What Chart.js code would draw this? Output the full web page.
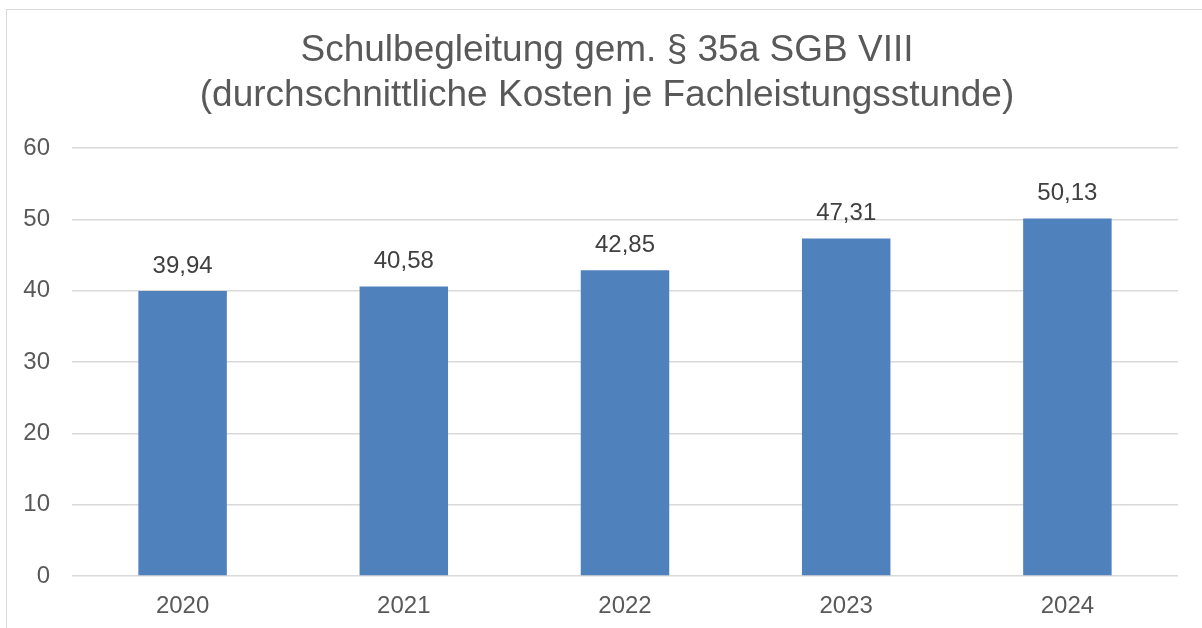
<!DOCTYPE html>
<html>
<head>
<meta charset="utf-8">
<script src="https://cdn.jsdelivr.net/npm/chart.js@4.4.1/dist/chart.umd.min.js"></script>
<style>
    html, body { margin: 0; padding: 0; background: #fff; overflow: hidden; }
    #frame { position: absolute; left: 6px; top: 9px; width: 1300px; height: 700px; border: 1px solid #d9d9d9; }
    #wrap { position: absolute; left: 0; top: 0; width: 1202px; height: 628px; }
</style>
</head>
<body>
<div id="frame"></div>
<div id="wrap"><canvas id="chart"></canvas></div>
<script>
const years = ['2020', '2021', '2022', '2023', '2024'];
const costs = [39.94, 40.58, 42.85, 47.31, 50.13];
const title_lines = ['Schulbegleitung gem. § 35a SGB VIII', '(durchschnittliche Kosten je Fachleistungsstunde)'];

const font_family = '"Liberation Sans", Arial, sans-serif';

function formatValue(v) {
    return v.toFixed(2).replace('.', ',');
}

const valueLabels = {
    id: 'valueLabels',
    afterDatasetsDraw(chart) {
        let ctx = chart.ctx;
        let meta = chart.getDatasetMeta(0);
        ctx.save();
        ctx.font = '24px ' + font_family;
        ctx.fillStyle = '#404040';
        ctx.textAlign = 'center';
        ctx.textBaseline = 'middle';
        meta.data.forEach(function (bar, i) {
            ctx.fillText(formatValue(costs[i]), bar.x, bar.y - 25);
        });
        ctx.restore();
    }
};

// title sits a bit right of the plot centre in the original
const shiftTitle = {
    id: 'shiftTitle',
    afterLayout(chart) {
        if (chart.titleBlock) {
            chart.titleBlock.left = 36;
        }
    }
};

new Chart(document.getElementById('chart').getContext('2d'), {
    type: 'bar',
    data: {
        labels: years,
        datasets: [{
            data: costs,
            backgroundColor: '#4F81BD',
            borderWidth: 0,
            categoryPercentage: 1,
            barPercentage: 0.4
        }]
    },
    options: {
        responsive: true,
        maintainAspectRatio: false,
        animation: false,
        layout: { padding: { left: 0, right: 24, top: 0, bottom: 0 } },
        plugins: {
            legend: { display: false },
            tooltip: { enabled: false },
            title: {
                display: true,
                text: title_lines,
                color: '#595959',
                font: { family: font_family, size: 37, weight: 'normal', lineHeight: 1.203 },
                padding: { top: 29, bottom: 30 }
            }
        },
        scales: {
            x: {
                grid: { display: false },
                border: { display: false },
                ticks: {
                    color: '#595959',
                    font: { family: font_family, size: 24 },
                    padding: 8
                },
                afterFit: function (scale) { scale.height = 52; }
            },
            y: {
                min: 0,
                max: 60,
                ticks: {
                    stepSize: 10,
                    color: '#595959',
                    font: { family: font_family, size: 24 },
                    padding: 22
                },
                grid: { color: '#d9d9d9', lineWidth: 1.5, drawTicks: false },
                border: { display: false },
                afterFit: function (scale) { scale.width = 72; }
            }
        }
    },
    plugins: [valueLabels, shiftTitle]
});
</script>
</body>
</html>
